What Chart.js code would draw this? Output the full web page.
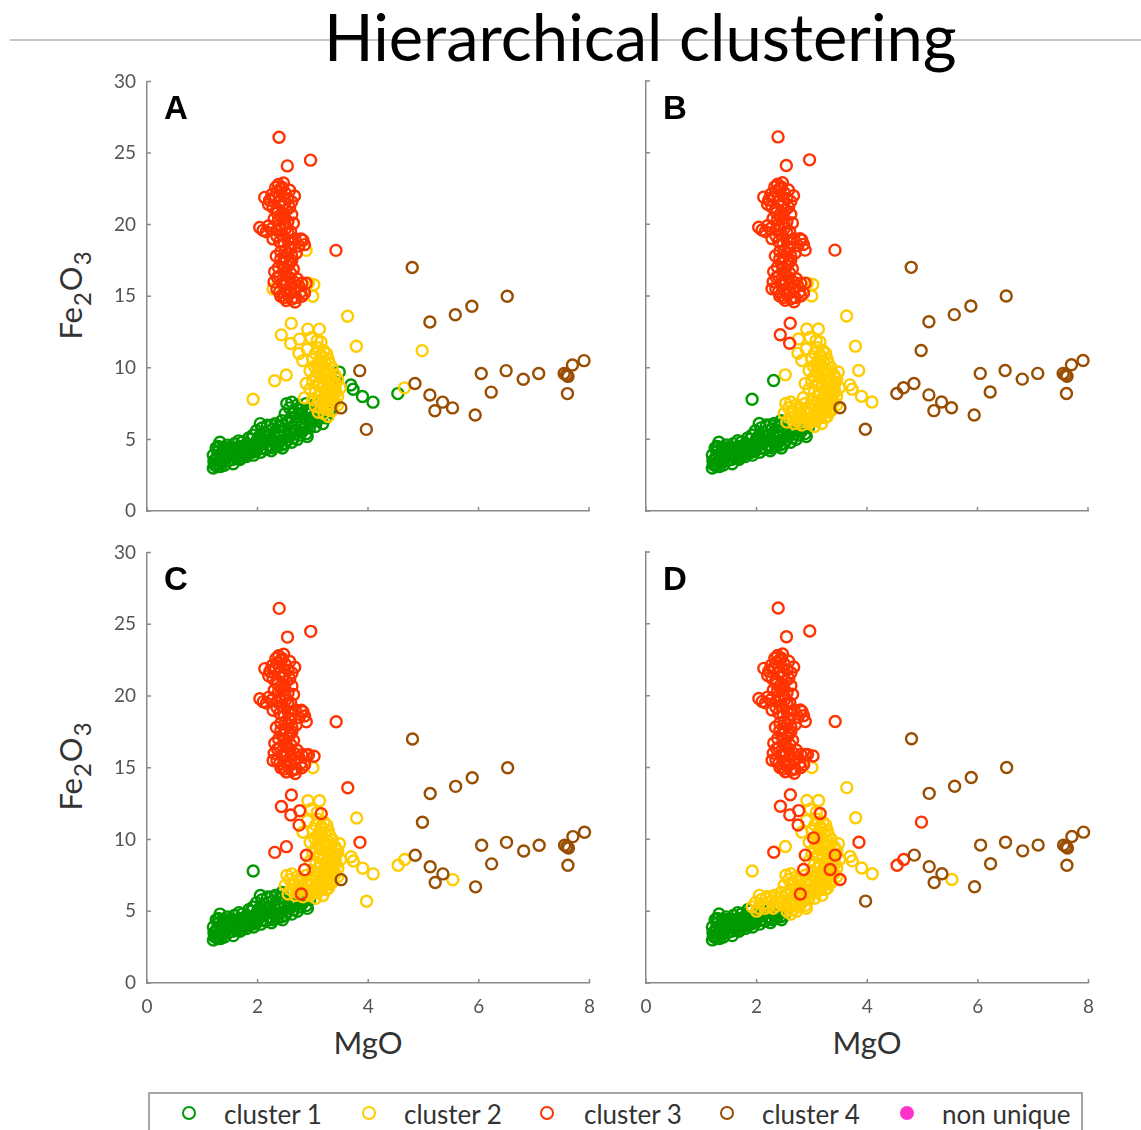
<!DOCTYPE html>
<html lang="en">
<head>
    <meta charset="UTF-8">
    <title>Hierarchical clustering</title>
    <script src="https://cdn.jsdelivr.net/npm/chart.js"></script>
    <style>
        body {
            margin: 0;
            width: 1141px;
            height: 1130px;
            background: #ffffff;
            font-family: 'Lato', sans-serif;
            position: relative;
            overflow: hidden;
        }
        .rule {
            position: absolute;
            left: 10px;
            right: 0;
            top: 39px;
            height: 2px;
            background: #c4c4c4;
        }
        #title {
            position: absolute;
            left: 324px;
            top: 4px;
            font-size: 65px;
            line-height: 65px;
            color: #000;
            white-space: nowrap;
        }
        canvas {
            position: absolute;
        }
        .ylab, .xlab {
            position: absolute;
            font-size: 31px;
            color: #333;
            white-space: nowrap;
            transform: translate(-50%, -50%);
        }
        .ylab {
            transform: translate(-50%, -50%) rotate(-90deg);
        }
        .ylab .sub {
            font-size: 24px;
            position: relative;
            top: 9px;
            margin: 0 1px;
        }
        #legend {
            position: absolute;
            left: 148px;
            top: 1092px;
            width: 935px;
            height: 50px;
            border: 2px solid #a6a6a6;
            box-sizing: border-box;
        }
        .mark {
            position: absolute;
            width: 10px;
            height: 10px;
            border-radius: 50%;
            border: 2.5px solid;
            transform: translate(-50%, -50%);
            top: 19px;
        }
        .item {
            position: absolute;
            top: 20px;
            transform: translateY(-50%);
            font-size: 26px;
            color: #333;
            white-space: nowrap;
        }
    </style>
</head>
<body>
    <div class="rule"></div>
    <div id="title">Hierarchical clustering</div>

    <canvas id="panelA" width="520" height="500"></canvas>
    <canvas id="panelB" width="520" height="500"></canvas>
    <canvas id="panelC" width="520" height="500"></canvas>
    <canvas id="panelD" width="520" height="500"></canvas>

    <div class="ylab" style="left:70px; top:295px;">Fe<span class="sub">2</span>O<span class="sub">3</span></div>
    <div class="ylab" style="left:70px; top:766px;">Fe<span class="sub">2</span>O<span class="sub">3</span></div>
    <div class="xlab" style="left:368px; top:1042px;">MgO</div>
    <div class="xlab" style="left:867px; top:1042px;">MgO</div>

    <div id="legend"></div>

    <script>
        // axis ticks
        const xTicks = [0, 2, 4, 6, 8];
        const yTicks = [0, 5, 10, 15, 20, 25, 30];

        const clusterNames = ["cluster 1", "cluster 2", "cluster 3", "cluster 4", "non unique"];
        const clusterColors = ["#009900", "#ffcc00", "#ff3300", "#994d00", "#ff33cc"];

        // MgO, Fe2O3 samples, grouped by how they get assigned in panels A-D
        const lowTrend = [
            [1.20, 3.0], [1.22, 3.3], [1.25, 3.6], [1.20, 3.9], [1.28, 3.1], [1.30, 4.2], [1.32, 4.8], [1.35, 3.4],
            [1.36, 3.8], [1.38, 4.4], [1.40, 3.2], [1.42, 3.6], [1.25, 4.4], [1.30, 3.5], [1.40, 4.0],
            [1.45, 4.6], [1.47, 3.5], [1.50, 3.9], [1.52, 4.3], [1.55, 3.6], [1.58, 4.7], [1.60, 4.1], [1.48, 4.2],
            [1.56, 3.3], [1.62, 3.7], [1.65, 4.4], [1.68, 3.6], [1.70, 4.0], [1.72, 4.8], [1.75, 3.9], [1.78, 4.3],
            [1.80, 3.8], [1.66, 4.9], [1.74, 4.5], [1.82, 4.6], [1.85, 4.1], [1.88, 5.0], [1.90, 4.4], [1.93, 3.9],
            [1.96, 4.7], [1.98, 4.2], [1.84, 5.1], [2.02, 4.5], [2.06, 4.1], [2.10, 4.8], [2.15, 4.3], [2.20, 4.6],
            [2.25, 4.2], [2.30, 4.9], [2.35, 4.5], [2.40, 4.8], [2.45, 4.4], [2.50, 4.7], [2.12, 5.0], [2.28, 4.4],
            [1.23, 3.2], [1.27, 3.8], [1.33, 3.1], [1.34, 4.0], [1.38, 3.5], [1.44, 3.9], [1.46, 4.4], [1.51, 3.6],
            [1.54, 4.0], [1.59, 3.8], [1.63, 4.3], [1.67, 4.0], [1.71, 3.7], [1.73, 4.2], [1.77, 4.6], [1.79, 4.0],
            [1.83, 4.3], [1.87, 4.6], [1.91, 4.1], [1.95, 4.4], [2.00, 4.8], [2.08, 4.4], [2.18, 4.9], [2.23, 4.5],
            [2.33, 4.7], [2.43, 4.6], [1.57, 4.4], [1.29, 4.5], [1.21, 3.5]
        ];
        const edgeBand = [
            [1.92, 5.3], [1.98, 5.6], [2.03, 5.2], [2.08, 5.8], [2.12, 5.5], [2.18, 6.0], [2.22, 5.3], [2.27, 5.7],
            [2.32, 6.1], [2.36, 5.4], [2.40, 5.9], [2.44, 6.3], [2.48, 5.6], [2.05, 6.1], [2.30, 5.2],
            [2.55, 5.0], [2.60, 5.4], [2.65, 5.1], [2.70, 5.6], [2.76, 5.3], [2.82, 5.7], [2.88, 5.4], [2.94, 5.8],
            [2.62, 4.8], [2.72, 5.0], [2.00, 5.0], [2.15, 5.2], [2.25, 6.0], [2.38, 5.6], [2.45, 6.0], [2.58, 5.2],
            [2.68, 5.4], [2.80, 5.5], [2.90, 5.2]
        ];
        const upperBand = [
            [2.50, 6.8], [2.58, 7.2], [2.65, 7.0], [2.72, 7.4], [2.80, 7.1], [2.88, 7.5], [2.95, 7.2], [3.02, 7.4],
            [3.10, 7.0], [2.60, 6.5], [2.70, 6.6], [2.78, 6.8], [2.85, 6.5], [2.92, 6.8], [3.00, 6.5], [3.08, 6.3],
            [3.15, 6.7], [2.55, 6.2], [2.68, 6.1], [2.82, 6.0], [2.95, 6.1], [3.05, 5.9], [3.18, 6.1], [2.53, 7.5],
            [2.62, 7.6], [2.75, 7.2], [2.90, 7.0], [3.05, 6.8], [2.65, 6.8], [2.98, 6.3], [3.12, 6.5], [2.72, 6.3]
        ];
        const greenArm = [
            [3.48, 9.7], [3.42, 9.3], [3.69, 8.8], [3.73, 8.5], [3.90, 8.0], [4.09, 7.6], [3.24, 6.5], [3.30, 6.9]
        ];
        const yellowCore = [
            [3.10, 11.4], [3.20, 11.2], [3.05, 11.0], [3.15, 10.9], [3.25, 11.0],
            [3.00, 10.6], [3.12, 10.5], [3.22, 10.4], [3.30, 10.3], [3.08, 10.2], [3.18, 10.1], [3.35, 10.0],
            [2.95, 9.8], [3.10, 9.7], [3.20, 9.8], [3.30, 9.6], [3.40, 9.5], [3.05, 9.4], [3.15, 9.3], [3.25, 9.2],
            [3.35, 9.1], [3.45, 9.2], [3.00, 9.0],
            [3.10, 8.8], [3.20, 8.7], [3.30, 8.6], [3.40, 8.5], [3.50, 8.6], [2.95, 8.5], [3.05, 8.3], [3.15, 8.2],
            [3.25, 8.3], [3.35, 8.1], [3.45, 8.0],
            [3.00, 7.8], [3.10, 7.7], [3.20, 7.6], [3.30, 7.5], [3.40, 7.6], [3.05, 7.3], [3.15, 7.2], [3.25, 7.1],
            [3.35, 7.0], [3.20, 6.8], [3.10, 6.9], [3.28, 6.6],
            [3.18, 10.7], [3.28, 10.6], [3.12, 10.0], [3.26, 9.9], [3.22, 9.5], [3.32, 9.3], [3.12, 9.0], [3.28, 8.9],
            [3.38, 8.8], [3.22, 8.4], [3.32, 8.3], [3.42, 8.3], [3.12, 8.0], [3.25, 7.9], [3.35, 7.8], [3.18, 7.4],
            [3.28, 7.3], [3.45, 7.4]
        ];
        const yellowUpper = [
            [2.91, 12.7], [3.12, 12.7], [2.97, 12.1], [3.08, 11.9], [2.82, 10.5], [2.90, 11.3], [3.00, 15.0]
        ];
        const redBranch = [[2.61, 13.1], [2.43, 12.3], [2.60, 11.7]];
        const redEdge = [[2.88, 18.2], [2.28, 15.5]];
        const redOutliers = [[2.39, 26.1], [2.54, 24.1], [2.96, 24.5], [3.42, 18.2]];
        const redCore = [
            [2.38, 22.8], [2.42, 22.5], [2.45, 22.6], [2.35, 22.3], [2.50, 22.2], [2.40, 22.0], [2.30, 21.9],
            [2.55, 21.8], [2.13, 21.9], [2.22, 21.7], [2.67, 22.0], [2.62, 21.6], [2.20, 21.4],
            [2.28, 21.2], [2.45, 21.3], [2.52, 21.0], [2.36, 20.8], [2.62, 20.7], [2.44, 20.5], [2.30, 20.4],
            [2.55, 20.2], [2.65, 20.1], [2.40, 20.0],
            [2.04, 19.8], [2.10, 19.6], [2.16, 19.5], [2.25, 19.7], [2.35, 19.6], [2.50, 19.7], [2.60, 19.5], [2.45, 19.3],
            [2.28, 19.0], [2.40, 18.8], [2.55, 18.9], [2.68, 19.0], [2.79, 19.0], [2.85, 18.6], [2.75, 18.5],
            [2.60, 18.4], [2.50, 18.2], [2.42, 18.1], [2.70, 18.0], [2.34, 17.8],
            [2.50, 17.7], [2.62, 17.5], [2.45, 17.3], [2.55, 17.1], [2.38, 17.0], [2.65, 16.9], [2.31, 16.7], [2.50, 16.6],
            [2.40, 16.4], [2.58, 16.3], [2.72, 16.2], [2.52, 16.1], [2.30, 16.0], [2.45, 15.9], [2.60, 15.8],
            [2.80, 15.9], [2.88, 15.9], [2.35, 15.5], [2.50, 15.4], [2.66, 15.5], [2.78, 15.3], [2.55, 15.1],
            [2.42, 15.0], [2.70, 14.9], [2.52, 14.7], [2.62, 14.8], [2.85, 15.2],
            [2.33, 22.6], [2.47, 22.9], [2.40, 21.6], [2.58, 22.4], [2.26, 22.1], [2.49, 21.5], [2.35, 21.1],
            [2.58, 21.2], [2.48, 20.7], [2.38, 20.3], [2.50, 20.0], [2.20, 19.9], [2.42, 19.7], [2.55, 19.4],
            [2.35, 19.2], [2.48, 18.6], [2.62, 18.7], [2.82, 18.9], [2.55, 18.0], [2.62, 17.8], [2.42, 17.6],
            [2.58, 17.3], [2.48, 16.9], [2.60, 16.6], [2.36, 16.3], [2.66, 16.0], [2.50, 15.8], [2.75, 15.7],
            [2.40, 15.3], [2.60, 15.2], [2.48, 14.9], [2.80, 15.0], [2.68, 14.6]
        ];
        const brownArm = [
            [4.80, 17.0], [6.52, 15.0], [5.88, 14.3], [5.58, 13.7], [5.12, 13.2], [5.12, 8.1], [5.35, 7.6],
            [5.21, 7.0], [5.94, 6.7], [6.05, 9.6], [6.23, 8.3], [6.50, 9.8], [6.81, 9.2], [7.09, 9.6], [7.55, 9.6],
            [7.59, 9.5], [7.62, 9.4], [7.61, 8.2], [7.70, 10.2], [7.91, 10.5]
        ];
        // single samples whose cluster changes between panels
        const switchPoints = [
            [2.31, 9.1], [2.52, 9.5], [1.92, 7.8], [3.63, 13.6], [3.79, 11.5], [4.98, 11.2], [3.85, 9.8],
            [3.51, 7.2], [3.97, 5.7], [4.54, 8.2], [4.66, 8.6], [4.85, 8.9], [5.53, 7.2], [2.88, 8.9],
            [2.85, 7.9], [2.79, 6.2], [3.03, 10.1], [3.42, 8.9], [3.33, 7.9], [3.15, 11.8], [2.76, 12.0],
            [2.75, 11.0], [2.92, 15.9], [3.02, 15.8]
        ];
        const switchCodes = [
            "2133", "2232", "2112", "2232", "2222", "2443", "4233",
            "4443", "4424", "1423", "2423", "4444", "4422", "2233",
            "2233", "1233", "2223", "2223", "2223", "2233", "2233",
            "2233", "2233", "2233"
        ];
        const nonUnique = [];

        // cluster of each group in panels A, B, C, D
        const groups = [
            [lowTrend, "1111"], [edgeBand, "1112"], [upperBand, "1222"], [greenArm, "1222"],
            [yellowCore, "2222"], [yellowUpper, "2222"], [redBranch, "2333"], [redEdge, "2333"],
            [redOutliers, "3333"], [redCore, "3333"], [brownArm, "4444"]
        ];

        const axisColor = "#8a8a8a";
        const tickColor = "#555555";

        function pointsFor(panel, cluster) {
            const out = [];
            groups.forEach(([pts, code]) => {
                if (code[panel] === String(cluster)) pts.forEach(p => out.push({x: p[0], y: p[1]}));
            });
            switchPoints.forEach((p, i) => {
                if (switchCodes[i][panel] === String(cluster)) out.push({x: p[0], y: p[1]});
            });
            return out;
        }

        // inward tick marks + panel letter
        const panelDecor = {
            id: "panelDecor",
            afterDraw(chart, args, opts) {
                const {ctx, chartArea, scales: {x, y}} = chart;
                ctx.save();
                ctx.strokeStyle = axisColor;
                ctx.lineWidth = 1.5;
                ctx.beginPath();
                xTicks.forEach(v => {
                    const px = x.getPixelForValue(v);
                    ctx.moveTo(px, chartArea.bottom);
                    ctx.lineTo(px, chartArea.bottom - 4);
                });
                yTicks.forEach(v => {
                    const py = y.getPixelForValue(v);
                    ctx.moveTo(chartArea.left, py);
                    ctx.lineTo(chartArea.left + 4, py);
                });
                ctx.stroke();
                ctx.fillStyle = "#000";
                ctx.font = "bold 33px 'Liberation Sans', Arial, sans-serif";
                ctx.textBaseline = "alphabetic";
                ctx.fillText(opts.letter, chartArea.left + 17, chartArea.top + 38);
                ctx.restore();
            }
        };

        function panelConfig(panel, letter, showX, showY) {
            const datasets = clusterNames.slice(0, 4).map((name, c) => ({
                label: name,
                data: pointsFor(panel, c + 1),
                borderColor: clusterColors[c],
                backgroundColor: "rgba(0,0,0,0)",
                pointRadius: 5.5,
                pointBorderWidth: 2.4,
                pointStyle: "circle",
                order: 4 - c,
                clip: false
            }));
            datasets.push({
                label: clusterNames[4],
                data: nonUnique,
                borderColor: clusterColors[4],
                backgroundColor: clusterColors[4],
                pointRadius: 5,
                order: 0
            });

            return {
                type: "scatter",
                data: {datasets},
                options: {
                    responsive: false,
                    animation: false,
                    layout: {padding: {top: 10, right: 10, left: 0, bottom: 0}},
                    plugins: {
                        legend: {display: false},
                        tooltip: {enabled: false},
                        panelDecor: {letter}
                    },
                    scales: {
                        x: {
                            type: "linear",
                            min: 0,
                            max: 8,
                            afterBuildTicks: s => { s.ticks = xTicks.map(v => ({value: v})); },
                            afterFit: s => { s.height = 40; },
                            grid: {display: false, drawTicks: false},
                            border: {display: true, color: axisColor, width: 1.5},
                            ticks: {
                                display: showX,
                                color: tickColor,
                                padding: 12,
                                maxRotation: 0,
                                font: {family: "Lato", size: 19}
                            }
                        },
                        y: {
                            type: "linear",
                            min: 0,
                            max: 30,
                            afterBuildTicks: s => { s.ticks = yTicks.map(v => ({value: v})); },
                            afterFit: s => { s.width = 47; },
                            grid: {display: false, drawTicks: false},
                            border: {display: true, color: axisColor, width: 1.5},
                            ticks: {
                                display: showY,
                                color: tickColor,
                                padding: 11,
                                font: {family: "Lato", size: 19}
                            }
                        }
                    }
                },
                plugins: [panelDecor]
            };
        }

        // build once to measure the margins, then size the canvas so the plot box lands where it should
        function makePanel(id, panel, letter, showX, showY, left, top, w, h) {
            const canvas = document.getElementById(id);
            let chart = new Chart(canvas, panelConfig(panel, letter, showX, showY));
            const ca = chart.chartArea;
            const padL = ca.left, padT = ca.top;
            const padR = chart.width - ca.right, padB = chart.height - ca.bottom;
            chart.destroy();
            canvas.width = Math.round(padL + w + padR);
            canvas.height = Math.round(padT + h + padB);
            canvas.style.left = (left - padL) + "px";
            canvas.style.top = (top - padT) + "px";
            new Chart(canvas, panelConfig(panel, letter, showX, showY));
        }

        makePanel("panelA", 0, "A", false, true, 147, 81, 442, 430);
        makePanel("panelB", 1, "B", false, false, 646, 81, 442, 430);
        makePanel("panelC", 2, "C", true, true, 147, 552, 442, 431);
        makePanel("panelD", 3, "D", true, false, 646, 552, 442, 431);

        // shared legend
        const markX = [39, 219, 397, 577, 757];
        const textX = [74, 254, 434, 612, 792];
        const legend = document.getElementById("legend");
        clusterNames.forEach((name, i) => {
            const m = document.createElement("div");
            m.className = "mark";
            m.style.left = markX[i] + "px";
            m.style.borderColor = clusterColors[i];
            if (i === 4) m.style.background = clusterColors[i];
            legend.appendChild(m);
            const t = document.createElement("div");
            t.className = "item";
            t.style.left = textX[i] + "px";
            t.textContent = name;
            legend.appendChild(t);
        });
    </script>
</body>
</html>
